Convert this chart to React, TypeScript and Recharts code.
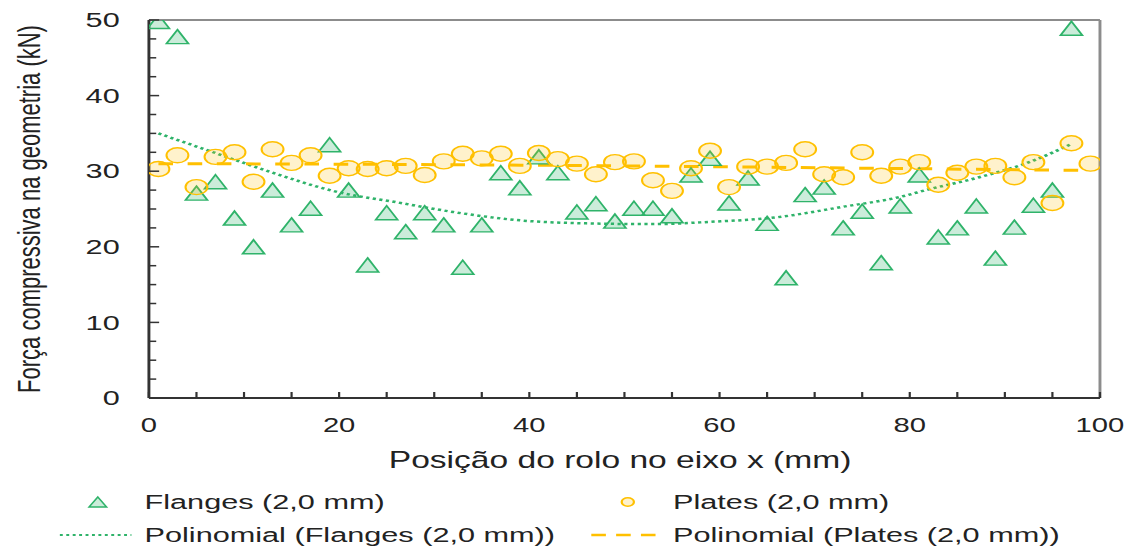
import { ComposedChart, Label, Legend, Line, ReferenceLine, Scatter, XAxis, YAxis } from 'recharts';

// the source picture is an Excel chart stretched sideways, so draw narrow and scale x
const STRETCH = 1.46;
const W = 778;
const H = 550;

const FONT = '"Liberation Sans", Arial, sans-serif';
const INK = '#222222';
const AXIS = '#333333';
const FRAME = '#8c8c8c';
const GREEN = '#2fb36a';
const GOLD = '#ffc000';

const flangesX = [
  1, 3, 5, 7, 9, 11, 13, 15, 17, 19, 21, 23, 25, 27, 29, 31, 33, 35, 37, 39, 41, 43, 45, 47, 49,
  51, 53, 55, 57, 59, 61, 63, 65, 67, 69, 71, 73, 75, 77, 79, 81, 83, 85, 87, 89, 91, 93, 95, 97,
];
const flangesY = [
  49.8, 47.8, 27.1, 28.6, 23.8, 20.0, 27.5, 22.9, 25.1, 33.5, 27.5, 17.6, 24.5, 22.0, 24.5, 22.9, 17.3,
  22.9, 29.8, 27.8, 31.9, 29.8, 24.6, 25.7, 23.4, 25.1, 25.1, 24.1, 29.5, 31.7, 25.8, 29.1, 23.1, 15.9,
  26.9, 27.9, 22.5, 24.7, 17.9, 25.4, 29.5, 21.3, 22.5, 25.4, 18.5, 22.6, 25.5, 27.5, 48.9,
];

const platesX = [
  1, 3, 5, 7, 9, 11, 13, 15, 17, 19, 21, 23, 25, 27, 29, 31, 33, 35, 37, 39, 41, 43, 45, 47, 49,
  51, 53, 55, 57, 59, 61, 63, 65, 67, 69, 71, 73, 75, 77, 79, 81, 83, 85, 87, 89, 91, 93, 95, 97, 99,
];
const platesY = [
  30.3, 32.1, 27.9, 31.9, 32.5, 28.6, 32.9, 31.1, 32.1, 29.4, 30.4, 30.3, 30.4, 30.7, 29.5, 31.3, 32.3,
  31.7, 32.3, 30.7, 32.4, 31.6, 31.0, 29.6, 31.2, 31.3, 28.8, 27.4, 30.4, 32.7, 27.9, 30.6, 30.6, 31.1,
  32.9, 29.6, 29.2, 32.5, 29.4, 30.6, 31.2, 28.2, 29.8, 30.6, 30.7, 29.2, 31.2, 25.8, 33.7, 31.0,
];

// trend curves
const flangesTrendX = [1, 7, 13, 20, 26, 32, 39, 46, 53, 59, 66, 73, 79, 82, 87, 93, 97];
const flangesTrendY = [35.0, 32.4, 29.8, 27.2, 25.9, 24.6, 23.5, 23.1, 23.0, 23.3, 23.9, 25.3, 26.6, 27.6, 29.1, 31.4, 33.6];
const platesTrendX = [1, 25, 50, 75, 99];
const platesTrendY = [31.0, 30.9, 30.7, 30.4, 30.1];

const xTicks = [0, 5, 10, 15, 20, 25, 30, 35, 40, 45, 50, 55, 60, 65, 70, 75, 80, 85, 90, 95, 100];
const xLabels = [0, 20, 40, 60, 80, 100];
const yTicks = [0, 2.5, 5, 7.5, 10, 12.5, 15, 17.5, 20, 22.5, 25, 27.5, 30, 32.5, 35, 37.5, 40, 42.5, 45, 47.5, 50];
const yLabels = [0, 10, 20, 30, 40, 50];

const flangesName = 'Flanges (2,0 mm)';
const platesName = 'Plates (2,0 mm)';
const flangesTrendName = 'Polinomial (Flanges (2,0 mm))';
const platesTrendName = 'Polinomial (Plates (2,0 mm))';

const zip = (xs: number[], ys: number[]) => xs.map((x, i) => ({ x, y: ys[i] }));
const flanges = zip(flangesX, flangesY);
const plates = zip(platesX, platesY);
const flangesTrend = zip(flangesTrendX, flangesTrendY);
const platesTrend = zip(platesTrendX, platesTrendY);

const TRI_FILL = 'rgba(47,179,106,0.25)';
const DOT_FILL = 'rgba(255,192,0,0.2)';

function TriangleMark(props: any) {
  const { cx, cy } = props;
  if (cx == null || cy == null) return null;
  return (
    <path
      d={`M${cx},${cy - 7} L${cx + 7.5},${cy + 7} L${cx - 7.5},${cy + 7} Z`}
      fill={TRI_FILL}
      stroke={GREEN}
      strokeWidth={1.4}
    />
  );
}

function CircleMark(props: any) {
  const { cx, cy } = props;
  if (cx == null || cy == null) return null;
  return <circle cx={cx} cy={cy} r={7.5} fill={DOT_FILL} stroke={GOLD} strokeWidth={1.4} />;
}

function XTick({ x, y, payload }: any) {
  return (
    <g>
      <line x1={x} x2={x} y1={y} y2={y - 6} stroke={AXIS} strokeWidth={1.5} />
      {xLabels.includes(payload.value) && (
        <text x={x} y={y + 34} textAnchor="middle" fontFamily={FONT} fontSize={20} fill={INK}>
          {payload.value}
        </text>
      )}
    </g>
  );
}

function YTick({ x, y, payload }: any) {
  const major = yLabels.includes(payload.value);
  return (
    <g>
      <line x1={x} x2={x + (major ? 7 : 5)} y1={y} y2={y} stroke={AXIS} strokeWidth={1.5} />
      {major && (
        <text x={x - 20} y={y} textAnchor="end" dominantBaseline="central" fontFamily={FONT} fontSize={21} fill={INK}>
          {payload.value}
        </text>
      )}
    </g>
  );
}

function XTitle({ viewBox }: any) {
  const cx = viewBox.x + viewBox.width / 2 - 3;
  return (
    <text x={cx} y={viewBox.y + 70} textAnchor="middle" fontFamily={FONT} fontSize={23} fill={INK}>
      Posição do rolo no eixo x (mm)
    </text>
  );
}

function YTitle({ viewBox }: any) {
  const cy = viewBox.y + viewBox.height / 2;
  return (
    <text
      x={20}
      y={cy}
      transform={`rotate(-90 20 ${cy})`}
      textAnchor="middle"
      dominantBaseline="central"
      fontFamily={FONT}
      fontSize={22}
      fill={INK}
    >
      Força compressiva na geometria (kN)
    </text>
  );
}

function LegendBox() {
  const row1 = 22;
  const row2 = 55;
  const txt = { fontFamily: FONT, fontSize: 21, fill: INK, dominantBaseline: 'central' as const };
  return (
    <svg width={W} height={70} style={{ display: 'block' }}>
      <path d={`M67,${row1 - 5} L73,${row1 + 5} L61,${row1 + 5} Z`} fill={TRI_FILL} stroke={GREEN} strokeWidth={1.3} />
      <text x={99} y={row1} {...txt}>{flangesName}</text>
      <line x1={41} x2={90} y1={row2} y2={row2} stroke={GREEN} strokeWidth={2} strokeDasharray="2 2.4" />
      <text x={99} y={row2} {...txt}>{flangesTrendName}</text>
      <circle cx={430} cy={row1} r={4.2} fill={DOT_FILL} stroke={GOLD} strokeWidth={1.5} />
      <text x={461} y={row1} {...txt}>{platesName}</text>
      <line x1={405} x2={454} y1={row2} y2={row2} stroke={GOLD} strokeWidth={2.5} strokeDasharray="10 7" />
      <text x={461} y={row2} {...txt}>{platesTrendName}</text>
    </svg>
  );
}

export default function App() {
  return (
    <div
      style={{
        position: 'absolute',
        left: 0,
        top: 0,
        width: W,
        height: H,
        background: '#fff',
        transform: `scaleX(${STRETCH})`,
        transformOrigin: '0 0',
      }}
    >
      <ComposedChart width={W} height={H} margin={{ top: 20, right: 24.6, bottom: 0, left: 0 }}>
        <XAxis
          type="number"
          dataKey="x"
          domain={[0, 100]}
          ticks={xTicks}
          interval={0}
          height={152}
          tickSize={0}
          tickMargin={0}
          tickLine={false}
          tick={<XTick />}
          axisLine={{ stroke: AXIS, strokeWidth: 2 }}
          allowDataOverflow
        >
          <Label content={<XTitle />} />
        </XAxis>
        <YAxis
          type="number"
          dataKey="y"
          domain={[0, 50]}
          ticks={yTicks}
          interval={0}
          width={102}
          tickSize={0}
          tickMargin={0}
          tickLine={false}
          tick={<YTick />}
          axisLine={{ stroke: AXIS, strokeWidth: 2 }}
          allowDataOverflow
        >
          <Label content={<YTitle />} />
        </YAxis>
        <ReferenceLine y={50} stroke={FRAME} strokeWidth={2} />
        <ReferenceLine x={100} stroke={FRAME} strokeWidth={2} />
        <Scatter name={flangesName} data={flanges} shape={<TriangleMark />} isAnimationActive={false} />
        <Scatter name={platesName} data={plates} shape={<CircleMark />} isAnimationActive={false} />
        <Line
          name={flangesTrendName}
          data={flangesTrend}
          dataKey="y"
          type="monotone"
          stroke={GREEN}
          strokeWidth={2.5}
          strokeDasharray="2.2 2.4"
          dot={false}
          activeDot={false}
          isAnimationActive={false}
        />
        <Line
          name={platesTrendName}
          data={platesTrend}
          dataKey="y"
          type="monotone"
          stroke={GOLD}
          strokeWidth={3}
          strokeDasharray="10 10"
          dot={false}
          activeDot={false}
          isAnimationActive={false}
        />
        <Legend
          layout="horizontal"
          verticalAlign="middle"
          align="center"
          content={<LegendBox />}
          wrapperStyle={{ left: 0, top: 480, width: W, height: 70 }}
        />
      </ComposedChart>
    </div>
  );
}
